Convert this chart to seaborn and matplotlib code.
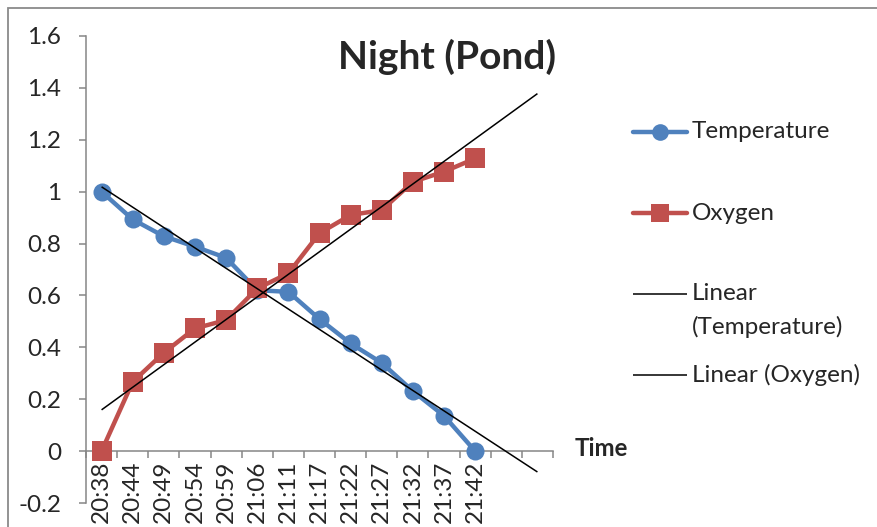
import numpy as np
import pandas as pd
import matplotlib
matplotlib.use("Agg")
import matplotlib.pyplot as plt
from matplotlib.lines import Line2D
from matplotlib.patches import Rectangle
import seaborn as sns

# ---- data ----
times = ["20:38", "20:44", "20:49", "20:54", "20:59", "21:06", "21:11",
         "21:17", "21:22", "21:27", "21:32", "21:37", "21:42"]
temperature = [1.0, 0.893, 0.828, 0.788, 0.745, 0.620, 0.614,
               0.509, 0.415, 0.340, 0.231, 0.136, 0.0]
oxygen = [0.0, 0.267, 0.379, 0.473, 0.505, 0.627, 0.685,
          0.840, 0.910, 0.929, 1.038, 1.077, 1.128]
forecast_periods = 2
y_ticks = [-0.2, 0, 0.2, 0.4, 0.6, 0.8, 1, 1.2, 1.4, 1.6]

BLUE = "#4F81BD"
RED = "#C0504D"
GRAY = "#868686"
FONT = "Lato"
TICK_FS = 17.5

sns.set_theme(style="white")
plt.rcParams["font.family"] = [FONT, "DejaVu Sans"]

W, H = 877, 527
fig = plt.figure(figsize=(W / 100, H / 100), dpi=100)

def fx(px):
    return px / W

def fy(py):
    return 1 - py / H

ax = fig.add_axes([fx(86), fy(503), fx(553) - fx(86), fy(36) - fy(503)])

pos = np.arange(len(times))
df = pd.DataFrame({
    "pos": np.concatenate([pos, pos]),
    "value": temperature + oxygen,
    "series": ["Temperature"] * len(times) + ["Oxygen"] * len(times),
})

sns.lineplot(data=df, x="pos", y="value", hue="series", style="series",
             palette={"Temperature": BLUE, "Oxygen": RED},
             markers={"Temperature": "o", "Oxygen": "s"}, dashes=False,
             linewidth=3.2, markeredgewidth=0, legend=False, ax=ax,
             zorder=3)
# marker sizes per series
for line in ax.get_lines():
    if line.get_marker() == "s":
        line.set_markersize(14.4)
    else:
        line.set_markersize(13)

# linear trendlines, forecast forward
n_cat = len(times) + forecast_periods
xs = np.array([0, n_cat - 1])
for vals in (temperature, oxygen):
    slope, icpt = np.polyfit(pos, vals, 1)
    ax.plot(xs, icpt + slope * xs, color="black", lw=1.1, zorder=5,
            solid_capstyle="butt")

# axes styling
ax.set_xlim(-0.5, n_cat - 0.5)
ax.set_ylim(-0.2, 1.6)
ax.set_xlabel("")
ax.set_ylabel("")
for s in ("top", "right"):
    ax.spines[s].set_visible(False)
ax.spines["bottom"].set_position(("data", 0))
for s in ("left", "bottom"):
    ax.spines[s].set_color(GRAY)
    ax.spines[s].set_linewidth(1.1)

ax.set_yticks(y_ticks)
ax.set_yticklabels([f"{v:g}" for v in y_ticks])
ax.tick_params(axis="y", which="major", direction="out", length=5,
               width=1.1, color=GRAY, pad=13, labelsize=TICK_FS, left=True)

ax.set_xticks(np.arange(n_cat))
ax.set_xticklabels(times + [""] * forecast_periods, rotation=90)
ax.set_xticks(np.arange(-0.5, n_cat, 1), minor=True)
ax.tick_params(axis="x", which="major", length=0, pad=7, labelsize=TICK_FS)
ax.tick_params(axis="x", which="minor", direction="out", length=5,
               width=1.1, color=GRAY, bottom=True)
for lab in ax.get_xticklabels():
    lab.set_verticalalignment("top")
ax.grid(False)

# title and axis label
fig.text(fx(447), fy(57), "Night (Pond)", fontsize=28, fontweight="bold",
         ha="center", va="center")
fig.text(fx(575), fy(448), "Time", fontsize=17.3, fontweight="bold",
         ha="left", va="center")

# chart area border
fig.add_artist(Rectangle((fx(8), -0.1), 1.0, fy(8) + 0.1,
                         transform=fig.transFigure, fill=False,
                         edgecolor="#8a8a8a", lw=1.3))

# legend
legend_rows = [
    ("Temperature", BLUE, 3.2, "o", 12, 132),
    ("Oxygen", RED, 3.2, "s", 13, 213),
    ("Linear\n(Temperature)", "black", 1.1, None, 0, 294),
    ("Linear (Oxygen)", "black", 1.1, None, 0, 375),
]
for label, col, lw, mk, ms, ypx in legend_rows:
    fig.add_artist(Line2D([fx(633), fx(687)], [fy(ypx), fy(ypx)],
                          transform=fig.transFigure, color=col, lw=lw,
                          solid_capstyle="round" if mk else "butt"))
    if mk:
        fig.add_artist(Line2D([fx(660)], [fy(ypx)], transform=fig.transFigure,
                              marker=mk, markersize=ms, color=col,
                              markeredgewidth=0, linestyle="none"))
    fig.text(fx(692), fy(ypx), label.split("\n")[0], fontsize=17.5,
             ha="left", va="center")
    if "\n" in label:
        fig.text(fx(692), fy(ypx + 33), label.split("\n")[1], fontsize=17.5,
                 ha="left", va="center")

fig.savefig("out.png", dpi=100, facecolor="white")
